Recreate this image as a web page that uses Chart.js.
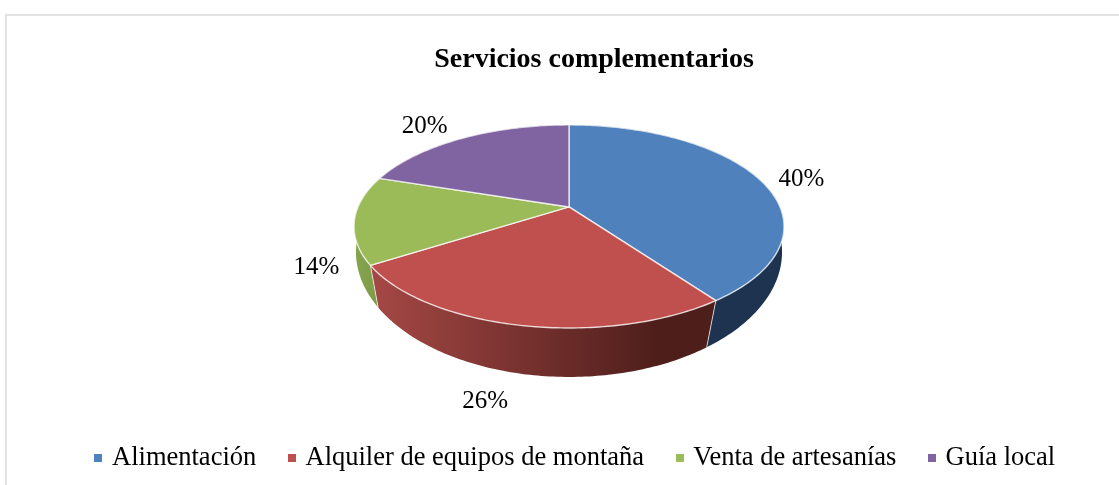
<!DOCTYPE html>
<html>
<head>
<meta charset="utf-8">
<title>Servicios complementarios</title>
<script src="https://cdn.jsdelivr.net/npm/chart.js@4"></script>
<style>
    body { margin: 0; background: #fff; }
    canvas { display: block; }
</style>
</head>
<body>
<canvas id="myChart" width="1119" height="485"></canvas>
<script>
// data
const categories = ['Alimentación', 'Alquiler de equipos de montaña', 'Venta de artesanías', 'Guía local'];
const shares = [40, 26, 14, 20];

// colours
const topColors = ['#4f81bd', '#c0504d', '#9bbb59', '#8064a2'];
const wallStart = ['#1d334f', '#a34744', '#86a44e', '#64507f'];
const wallEnd = ['#1d334f', '#4e1e1b', '#7f9c49', '#64507f'];

// how the flat pie is tilted: top rim and bottom rim have their own perspective
const shiftX = 9.5;
const lift = 43.1;
const topRim = { k: 0.192, xScale: 2.11, yScale: 0.978, drop: 0 };
const lowRim = { k: 0.12, xScale: 2.115, yScale: 1.232, drop: 30 };
// label distance from the rim of each slice
const labelNudge = [[43, 1], [-35, 76], [-38, 48], [-37, -12]];

const font = "'Liberation Serif', 'Times New Roman', serif";

function project(arc, angle, r) {
    const u = Math.cos(angle);
    const v = Math.sin(angle);
    const w = 1 - r.k * v;
    return {
        x: arc.x + shiftX + r.xScale * arc.outerRadius * u / w,
        y: arc.y - lift + r.drop + r.yScale * arc.outerRadius * v / w
    };
}

function rim(arc, r) {
    const pts = [];
    const steps = Math.ceil((arc.endAngle - arc.startAngle) * 60);
    for (let i = 0; i <= steps; i++) {
        pts.push(project(arc, arc.startAngle + (arc.endAngle - arc.startAngle) * i / steps, r));
    }
    return pts;
}

function swatch(color) {
    const c = document.createElement('canvas');
    c.width = 8;
    c.height = 8;
    const g = c.getContext('2d');
    g.fillStyle = color;
    g.fillRect(0, 0, 8, 8);
    return c;
}

// moves title and legend to where the picture has them
const nudgeBoxes = {
    id: 'nudgeBoxes',
    afterLayout(chart) {
        chart.titleBlock.left += 34.5;
        chart.titleBlock.right += 34.5;
        chart.legend.left += 17;
        chart.legend.right += 17;
        chart.legend.top -= 3.5;
        chart.legend.bottom -= 3.5;
    }
};

const frame = {
    id: 'frame',
    beforeDraw(chart) {
        const ctx = chart.ctx;
        ctx.fillStyle = '#e2e2e2';
        ctx.fillRect(5, 14, chart.width - 5, 2);
        ctx.fillRect(5, 14, 2, chart.height - 14);
    }
};

const pie3d = {
    id: 'pie3d',
    beforeDatasetsDraw(chart) {
        const ctx = chart.ctx;
        const arcs = chart.getDatasetMeta(0).data;

        // walls first, the top face covers their hidden part
        arcs.forEach((arc, i) => {
            const top = rim(arc, topRim);
            const low = rim(arc, lowRim);
            const xs = low.map(p => p.x);
            const grad = ctx.createLinearGradient(Math.min(...xs), 0, Math.max(...xs), 0);
            grad.addColorStop(0, wallStart[i]);
            grad.addColorStop(0.85, wallEnd[i]);
            grad.addColorStop(1, wallEnd[i]);
            ctx.beginPath();
            top.forEach((p, j) => j ? ctx.lineTo(p.x, p.y) : ctx.moveTo(p.x, p.y));
            low.reverse().forEach(p => ctx.lineTo(p.x, p.y));
            ctx.closePath();
            ctx.fillStyle = grad;
            ctx.fill();
        });

        // light seams between walls that face the viewer
        arcs.forEach((arc) => {
            if (Math.sin(arc.endAngle) > 0) {
                const a = project(arc, arc.endAngle, topRim);
                const b = project(arc, arc.endAngle, lowRim);
                ctx.beginPath();
                ctx.moveTo(a.x, a.y);
                ctx.lineTo(b.x, b.y);
                ctx.strokeStyle = 'rgba(255,255,255,0.7)';
                ctx.lineWidth = 1;
                ctx.stroke();
            }
        });

        // top face
        arcs.forEach((arc, i) => {
            ctx.beginPath();
            ctx.moveTo(arc.x + shiftX, arc.y - lift);
            rim(arc, topRim).forEach(p => ctx.lineTo(p.x, p.y));
            ctx.closePath();
            ctx.fillStyle = topColors[i];
            ctx.fill();
            ctx.strokeStyle = 'rgba(255,255,255,0.75)';
            ctx.lineWidth = 1.4;
            ctx.lineJoin = 'round';
            ctx.stroke();
        });

        // percent labels
        const total = shares.reduce((a, b) => a + b, 0);
        ctx.fillStyle = '#000';
        ctx.font = '25px ' + font;
        ctx.textAlign = 'center';
        ctx.textBaseline = 'middle';
        arcs.forEach((arc, i) => {
            const p = project(arc, (arc.startAngle + arc.endAngle) / 2, topRim);
            const text = Math.round(shares[i] / total * 100) + '%';
            ctx.fillText(text, p.x + labelNudge[i][0], p.y + labelNudge[i][1]);
        });
        return false;
    }
};

const myChart = new Chart(document.getElementById('myChart').getContext('2d'), {
    type: 'pie',
    data: {
        labels: categories,
        datasets: [{
            data: shares,
            backgroundColor: topColors,
            radius: 100
        }]
    },
    options: {
        responsive: false,
        animation: false,
        layout: { padding: { top: 24 } },
        plugins: {
            title: {
                display: true,
                text: 'Servicios complementarios',
                color: '#000',
                font: { family: font, size: 28, weight: 'bold' },
                padding: { top: 19, bottom: 10 }
            },
            legend: {
                position: 'bottom',
                labels: {
                    color: '#000',
                    font: { family: font, size: 26.5 },
                    usePointStyle: true,
                    boxWidth: 1,
                    padding: 35,
                    generateLabels: () => categories.map((name, i) => ({
                        text: name,
                        fontColor: '#000',
                        fillStyle: topColors[i],
                        strokeStyle: topColors[i],
                        pointStyle: swatch(topColors[i]),
                        index: i
                    }))
                }
            },
            tooltip: { enabled: false }
        }
    },
    plugins: [nudgeBoxes, frame, pie3d]
});
</script>
</body>
</html>
